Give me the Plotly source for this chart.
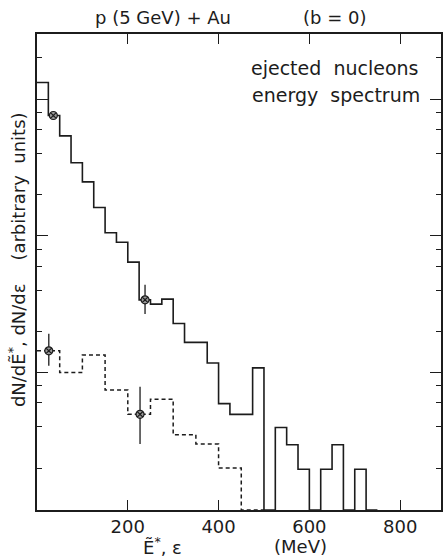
import numpy as np
import plotly.graph_objects as go

# ---------------- data ----------------
# solid histogram: ejected nucleons, 25 MeV bins starting at 0 MeV
solid_bin_left = [0, 25, 50, 75, 100, 125, 150, 175, 200, 225, 250, 275, 300, 325, 350,
                  375, 400, 425, 450, 475, 500, 525, 550, 575, 600, 625, 650, 675, 700, 725]
solid_counts = [661, 379, 269, 171, 124, 80.5, 52.6, 44.8, 32.1, 17.0, 15.8, 17.2, 11.4, 8.3, 8.3,
                5.87, 2.96, 2.47, 2.47, 5.4, 0, 1.98, 1.48, 0.98, 0, 0.98, 1.48, 0, 0.98, 0]
solid_bin_width = 25

# dashed histogram: 50 MeV bins starting at 0 MeV
dashed_bin_left = [0, 50, 100, 150, 200, 250, 300, 350, 400, 450]
dashed_counts = [7.2, 5.0, 6.7, 3.72, 2.47, 3.19, 1.75, 1.50, 1.0, 0]
dashed_bin_width = 50

# points with error bars
solid_pts_x = [36, 238]
solid_pts_y = [379, 17.0]
solid_pts_err_plus = [0, 4.9]
solid_pts_err_minus = [0, 3.6]

dashed_pts_x = [26, 227]
dashed_pts_y = [7.2, 2.47]
dashed_pts_err_plus = [2.4, 1.47]
dashed_pts_err_minus = [1.6, 0.97]

x_tick_vals = [200, 400, 600, 800]
x_tick_text = ["200", "400", "600", "800"]
y_major_ticks = [5, 50, 500]
y_minor_ticks = [1, 2, 3, 4, 10, 20, 30, 40, 100, 200, 300, 400, 1000]

X_RANGE = [0, 890]
Y_RANGE_LOG = [-0.307, 3.175]

# ---------------- build ----------------
INK = "#1c1c1c"
FONT = "DejaVu Sans"
FLOOR = 10 ** Y_RANGE_LOG[0]


def step_xy(left, counts, width):
    xs = list(left) + [left[-1] + width]
    ys = [c if c > 0 else FLOOR for c in counts]
    ys = ys + [ys[-1]]
    return xs, ys


sx, sy = step_xy(solid_bin_left, solid_counts, solid_bin_width)
dx, dy = step_xy(dashed_bin_left, dashed_counts, dashed_bin_width)

fig = go.Figure()
fig.add_trace(go.Scatter(x=sx, y=sy, mode="lines", line=dict(shape="hv", color=INK, width=1.6),
                         showlegend=False, hoverinfo="skip"))
fig.add_trace(go.Scatter(x=dx, y=dy, mode="lines",
                         line=dict(shape="hv", color=INK, width=1.5, dash="4px,3px"),
                         showlegend=False, hoverinfo="skip"))

marker_style = dict(symbol="circle-x", size=8, color="#9a9a9a", line=dict(color=INK, width=1.2))
fig.add_trace(go.Scatter(x=solid_pts_x, y=solid_pts_y, mode="markers", marker=marker_style,
                         error_y=dict(type="data", symmetric=False, array=solid_pts_err_plus,
                                      arrayminus=solid_pts_err_minus, color=INK, thickness=1.3, width=0),
                         showlegend=False, hoverinfo="skip"))
fig.add_trace(go.Scatter(x=dashed_pts_x, y=dashed_pts_y, mode="markers", marker=marker_style,
                         error_y=dict(type="data", symmetric=False, array=dashed_pts_err_plus,
                                      arrayminus=dashed_pts_err_minus, color=INK, thickness=1.3, width=0),
                         showlegend=False, hoverinfo="skip"))

fig.update_xaxes(range=X_RANGE, showgrid=False, zeroline=False,
                 showline=True, linecolor=INK, linewidth=1.6, mirror="ticks",
                 ticks="inside", ticklen=10, tickwidth=1.4, tickcolor=INK,
                 tickmode="array", tickvals=x_tick_vals, ticktext=x_tick_text,
                 tickfont=dict(family=FONT, size=18, color=INK))
fig.update_yaxes(type="log", range=Y_RANGE_LOG, showgrid=False, zeroline=False,
                 showline=True, linecolor=INK, linewidth=1.6, mirror="ticks",
                 ticks="inside", ticklen=11, tickwidth=1.4, tickcolor=INK,
                 tickmode="array", tickvals=y_major_ticks, showticklabels=False,
                 minor=dict(tickmode="array", tickvals=y_minor_ticks, ticks="inside",
                            ticklen=5, tickwidth=1.3, tickcolor=INK, showgrid=False))

annotations = [
    dict(text="p\u00a0(5\u00a0GeV)\u00a0+\u00a0Au", x=164, y=18, size=18),
    dict(text="(b\u00a0=\u00a00)", x=336, y=18, size=18),
    dict(text="ejected\u00a0\u00a0nucleons", x=422, y=68, xanchor="right", size=19),
    dict(text="energy\u00a0\u00a0spectrum", x=424, y=95, xanchor="right", size=19),
    dict(text="Ẽ<sup>*</sup>,\u00a0ε", x=163, y=546, size=18),
    dict(text="(MeV)", x=302, y=546, size=18),
    dict(text="dN/dẼ<sup>*</sup>,\u00a0dN/dε\u00a0\u00a0\u00a0\u00a0(arbitrary\u00a0\u00a0units)",
         x=17, y=260, textangle=-90, size=18),
]
ann_list = []
for a in annotations:
    d = dict(xref="paper", yref="paper", showarrow=False,
             font=dict(family=FONT, size=a["size"], color=INK),
             xanchor=a.get("xanchor", "center"), yanchor="middle", text=a["text"],
             textangle=a.get("textangle", 0))
    # convert pixel positions (in a 444x560 page) to paper coordinates
    L, R, T, B = 37, 1, 34, 50
    W, H = 444 - L - R, 560 - T - B
    d["x"] = (a["x"] - L) / W
    d["y"] = 1 - (a["y"] - T) / H
    ann_list.append(d)

fig.update_layout(width=444, height=560, margin=dict(l=37, r=1, t=34, b=50),
                  paper_bgcolor="white", plot_bgcolor="white",
                  annotations=ann_list, font=dict(family=FONT, color=INK))

fig.write_html("out.html")
